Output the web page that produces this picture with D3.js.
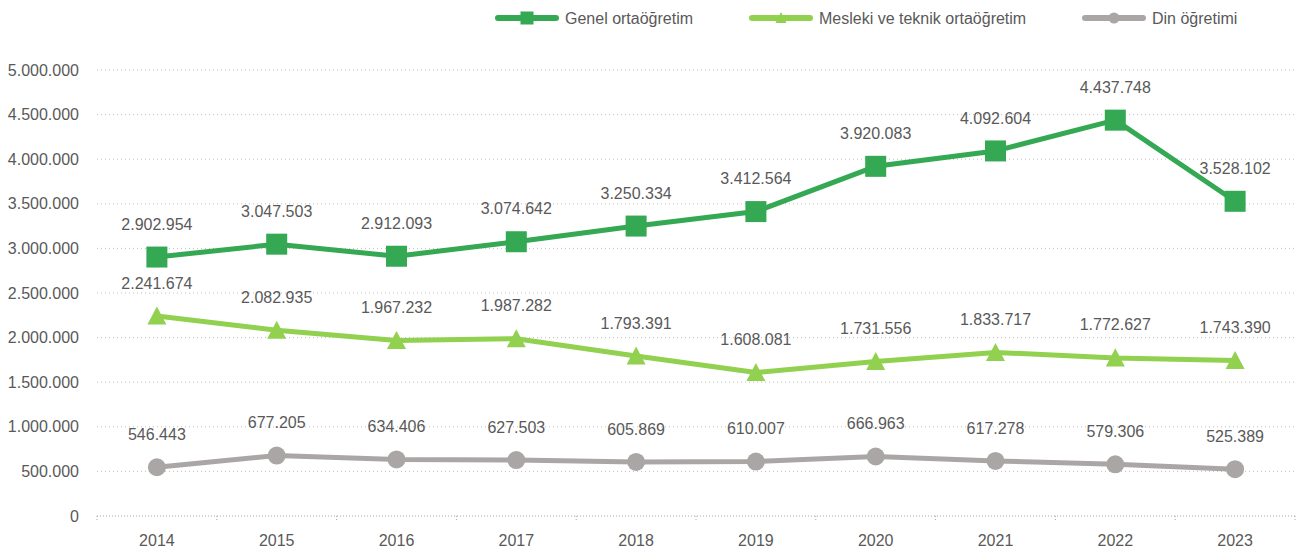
<!DOCTYPE html>
<html>
<head>
<meta charset="utf-8">
<script src="https://cdn.jsdelivr.net/npm/d3@7"></script>
<style>
  body { margin: 0; background: #fff; }
  svg text { font-family: "Liberation Sans Narrow", "Arial Narrow", "Liberation Sans", sans-serif; fill: #595959; }
</style>
</head>
<body>
<div id="chart"></div>
<script>
var years = ["2014","2015","2016","2017","2018","2019","2020","2021","2022","2023"];
var genel = [2902954, 3047503, 2912093, 3074642, 3250334, 3412564, 3920083, 4092604, 4437748, 3528102];
var mesleki = [2241674, 2082935, 1967232, 1987282, 1793391, 1608081, 1731556, 1833717, 1772627, 1743390];
var din = [546443, 677205, 634406, 627503, 605869, 610007, 666963, 617278, 579306, 525389];
var yTicks = [0, 500000, 1000000, 1500000, 2000000, 2500000, 3000000, 3500000, 4000000, 4500000, 5000000];

var series = [
  {name: "Genel ortaöğretim", values: genel, color: "#34a853", marker: "square"},
  {name: "Mesleki ve teknik ortaöğretim", values: mesleki, color: "#92d050", marker: "triangle"},
  {name: "Din öğretimi", values: din, color: "#aaa6a6", marker: "circle"}
];

var W = 1297, H = 553;
var svg = d3.select("#chart").append("svg").attr("width", W).attr("height", H);

var x = d3.scaleBand().domain(years).range([97, 1295]);
var y = d3.scaleLinear().domain([0, 5000000]).range([516, 70]);

var fmt = function(v){ return v === 0 ? "0" : d3.format(",")(v).replace(/,/g, "."); };

// gridlines
svg.append("g").selectAll("line")
  .data(yTicks.filter(function(d){return d > 0;}))
  .enter().append("line")
  .attr("x1", 97).attr("x2", 1295)
  .attr("y1", function(d){return y(d);}).attr("y2", function(d){return y(d);})
  .attr("stroke", "#bfbfbf").attr("stroke-width", 1).attr("stroke-dasharray", "1,3");

// y axis labels
svg.append("g").selectAll("text")
  .data(yTicks).enter().append("text")
  .attr("x", 79).attr("y", function(d){return y(d);})
  .attr("dy", "0.35em").attr("text-anchor", "end")
  .attr("font-size", 16)
  .text(fmt);

// x axis
var xAxis = svg.append("g");
xAxis.append("line")
  .attr("x1", 97).attr("x2", 1295).attr("y1", 516).attr("y2", 516)
  .attr("stroke", "#a6a6a6").attr("stroke-dasharray", "1,2");
var bounds = years.map(function(d){return x(d);}).concat([x.range()[1]]);
xAxis.selectAll("line.tick").data(bounds).enter().append("line")
  .attr("class", "tick")
  .attr("x1", function(d){return d;}).attr("x2", function(d){return d;})
  .attr("y1", 516).attr("y2", 522)
  .attr("stroke", "#a6a6a6").attr("stroke-dasharray", "1,2");
xAxis.selectAll("text").data(years).enter().append("text")
  .attr("x", function(d){return x(d) + x.bandwidth()/2;})
  .attr("y", 540).attr("dy", "0.35em").attr("text-anchor", "middle")
  .attr("font-size", 16)
  .text(function(d){return d;});

var cx = function(d, i){ return x(years[i]) + x.bandwidth()/2; };

function drawMarker(g, type, color, px, py, s) {
  if (type === "square") {
    g.append("rect").attr("x", px - s/2).attr("y", py - s/2).attr("width", s).attr("height", s).attr("fill", color);
  } else if (type === "triangle") {
    var h = s * 0.9;
    g.append("path").attr("d", "M" + px + "," + (py - h/2 - 1) + "L" + (px + s/2) + "," + (py + h/2) + "L" + (px - s/2) + "," + (py + h/2) + "Z").attr("fill", color);
  } else {
    g.append("circle").attr("cx", px).attr("cy", py).attr("r", s/2).attr("fill", color);
  }
}

var sizes = {square: 21, triangle: 19, circle: 18};

series.forEach(function(s){
  var g = svg.append("g");
  var line = d3.line().x(function(d,i){return cx(d,i);}).y(function(d){return y(d);});
  g.append("path").datum(s.values).attr("d", line)
    .attr("fill", "none").attr("stroke", s.color).attr("stroke-width", 5).attr("stroke-linejoin", "round");
  s.values.forEach(function(v, i){
    drawMarker(g, s.marker, s.color, cx(v, i), y(v), sizes[s.marker]);
  });
  g.selectAll("text").data(s.values).enter().append("text")
    .attr("x", function(d,i){return cx(d,i);})
    .attr("y", function(d){return y(d) - 33;})
    .attr("dy", "0.35em").attr("text-anchor", "middle")
    .attr("font-size", 16)
    .text(fmt);
});

// legend
var legendX = [498, 752, 1085];
series.forEach(function(s, i){
  var g = svg.append("g");
  var x0 = legendX[i];
  g.append("line").attr("x1", x0).attr("x2", x0 + 58).attr("y1", 18).attr("y2", 18)
    .attr("stroke", s.color).attr("stroke-width", 6).attr("stroke-linecap", "round");
  drawMarker(g, s.marker, s.color, x0 + 29, 18, s.marker === "square" ? 13 : 11);
  g.append("text").attr("x", x0 + 67).attr("y", 18).attr("dy", "0.35em")
    .attr("font-size", 16).text(s.name);
});
</script>
</body>
</html>
